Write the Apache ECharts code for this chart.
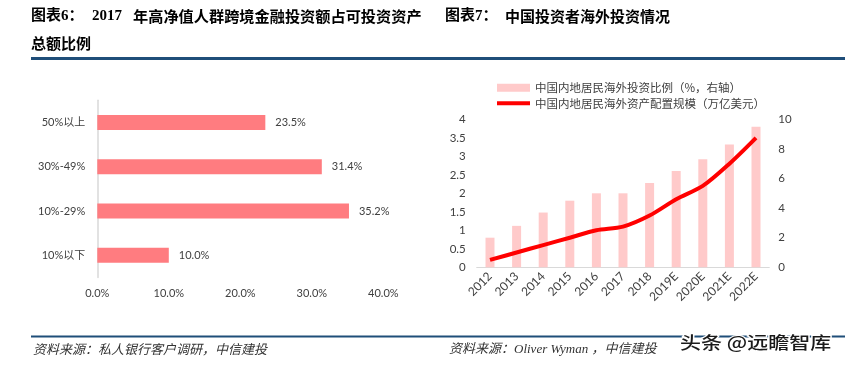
<!DOCTYPE html>
<html>
<head>
<meta charset="utf-8">
<script src="https://cdn.jsdelivr.net/npm/echarts@6/dist/echarts.min.js"></script>
<style>
html,body{margin:0;padding:0;background:#fff;}
#c{width:845px;height:365px;}
</style>
</head>
<body>
<div id="c"></div>
<script>
// ---- Left chart data ----
const leftCategories = ['10%以下', '10%-29%', '30%-49%', '50%以上'];
const leftValues = [10.0, 35.2, 31.4, 23.5];
const leftTickValues = [0, 10, 20, 30, 40];

// ---- Right chart data ----
const years = ['2012', '2013', '2014', '2015', '2016', '2017', '2018', '2019E', '2020E', '2021E', '2022E'];
const overseasRatio = [2.0, 2.8, 3.7, 4.5, 5.0, 5.0, 5.7, 6.5, 7.3, 8.3, 9.5];      // %, right axis
const overseasAssets = [0.2, 0.4, 0.6, 0.8, 1.0, 1.1, 1.4, 1.84, 2.2, 2.8, 3.5];    // trillion USD, left axis
const leftAxisTicks = [0, 0.5, 1, 1.5, 2, 2.5, 3, 3.5, 4];
const rightAxisTicks = [0, 2, 4, 6, 8, 10];

const seriesNames = ['中国内地居民海外投资比例（%，右轴）', '中国内地居民海外资产配置规模（万亿美元）'];

const FONT = 'Lato, "Noto Sans CJK SC", sans-serif';
const TITLE_FONT = '"Liberation Serif", "Noto Sans CJK SC", serif';
const DARK_BLUE = '#1F4E79';

const chart = echarts.init(document.getElementById('c'));

const option = {
  backgroundColor: '#ffffff',
  animation: false,
  textStyle: { fontFamily: FONT },
  graphic: [
    // titles
    { type: 'text', left: 31, top: 9, style: { text: '图表6：', font: 'bold 15px ' + TITLE_FONT, fill: '#000' } },
    { type: 'text', left: 92, top: 9, style: { text: '2017', font: 'bold 15px ' + TITLE_FONT, fill: '#000' } },
    { type: 'text', left: 133, top: 9, style: { text: '年高净值人群跨境金融投资额占可投资资产', font: 'bold 15.2px "Noto Sans CJK SC"', fill: '#000' } },
    { type: 'text', left: 31, top: 36, style: { text: '总额比例', font: 'bold 15px "Noto Sans CJK SC"', fill: '#000' } },
    { type: 'text', left: 445, top: 9, style: { text: '图表7：', font: 'bold 15px ' + TITLE_FONT, fill: '#000' } },
    { type: 'text', left: 505, top: 9, style: { text: '中国投资者海外投资情况', font: 'bold 15px "Noto Sans CJK SC"', fill: '#000' } },
    // top rule
    { type: 'line', shape: { x1: 31, y1: 58.5, x2: 845, y2: 58.5 }, style: { stroke: DARK_BLUE, lineWidth: 3 } },
    // bottom rule
    { type: 'line', shape: { x1: 31, y1: 336.5, x2: 845, y2: 336.5 }, style: { stroke: DARK_BLUE, lineWidth: 2 } },
    // sources
    { type: 'text', left: 33, top: 343, style: { text: '资料来源：私人银行客户调研，中信建投', font: 'italic 13px "Noto Sans CJK SC"', fill: '#333' } },
    { type: 'text', left: 449, top: 343, style: { text: '资料来源：Oliver Wyman ，中信建投', font: 'italic 13px "Liberation Serif", "Noto Sans CJK SC"', fill: '#333' } },
    // watermark
    { type: 'text', x: 680, y: 343, scaleY: 0.8, z: 100,
      style: { text: '头条 @远瞻智库', font: '500 21px "Noto Sans CJK SC"', fill: '#1a1a1a', stroke: '#ffffff', lineWidth: 3, verticalAlign: 'middle', align: 'left' } }
  ],
  legend: {
    orient: 'vertical',
    left: 495,
    top: 82,
    padding: 0,
    itemWidth: 33,
    itemHeight: 8,
    itemGap: 4,
    data: [
      { name: seriesNames[0], icon: 'rect' },
      { name: seriesNames[1], itemStyle: { opacity: 0 }, lineStyle: { width: 4 } }
    ],
    textStyle: { fontSize: 11.5, color: '#404040', fontFamily: '"Noto Sans CJK SC", sans-serif' }
  },
  grid: [
    { left: 97.3, top: 100.3, width: 286, height: 177.2, containLabel: false },
    { left: 476.7, top: 119.3, width: 292.6, height: 148, containLabel: false }
  ],
  xAxis: [
    {
      gridIndex: 0, type: 'value', min: leftTickValues[0], max: leftTickValues[leftTickValues.length - 1], interval: 10,
      axisLine: { show: false }, axisTick: { show: false }, splitLine: { show: false },
      axisLabel: { fontSize: 11, color: '#404040', margin: 10, formatter: v => v.toFixed(1) + '%' }
    },
    {
      gridIndex: 1, type: 'category', data: years,
      axisLine: { show: true, lineStyle: { color: '#D9D9D9', width: 1 } },
      axisTick: { show: false },
      axisLabel: { fontSize: 12, color: '#404040', rotate: 45, margin: 7, interval: 0 }
    }
  ],
  yAxis: [
    {
      gridIndex: 0, type: 'category', data: leftCategories,
      axisLine: { show: true, lineStyle: { color: '#D9D9D9', width: 1.5 } },
      axisTick: { show: false },
      axisLabel: { fontSize: 11, color: '#404040', margin: 12 }
    },
    {
      gridIndex: 1, type: 'value', min: leftAxisTicks[0], max: leftAxisTicks[leftAxisTicks.length - 1], interval: 0.5,
      axisLine: { show: false }, axisTick: { show: false }, splitLine: { show: false },
      axisLabel: { fontSize: 11.5, color: '#404040', margin: 11 }
    },
    {
      gridIndex: 1, type: 'value', position: 'right', min: rightAxisTicks[0], max: rightAxisTicks[rightAxisTicks.length - 1], interval: 2,
      axisLine: { show: false }, axisTick: { show: false }, splitLine: { show: false },
      axisLabel: { fontSize: 11.5, color: '#404040', margin: 9 }
    }
  ],
  series: [
    {
      type: 'bar', xAxisIndex: 0, yAxisIndex: 0, data: leftValues, barWidth: 15,
      itemStyle: { color: '#FF7C80' },
      label: { show: true, position: 'right', distance: 10, fontSize: 11, color: '#404040', formatter: p => p.value.toFixed(1) + '%' }
    },
    {
      name: seriesNames[0], type: 'bar', xAxisIndex: 1, yAxisIndex: 2, data: overseasRatio, barWidth: 9,
      itemStyle: { color: '#FFCACA' }
    },
    {
      name: seriesNames[1], type: 'line', xAxisIndex: 1, yAxisIndex: 1, data: overseasAssets,
      smooth: 0.3, symbol: 'none',
      lineStyle: { color: '#FF0000', width: 4 },
      itemStyle: { color: '#FF0000' }
    }
  ]
};

chart.setOption(option);
</script>
</body>
</html>
